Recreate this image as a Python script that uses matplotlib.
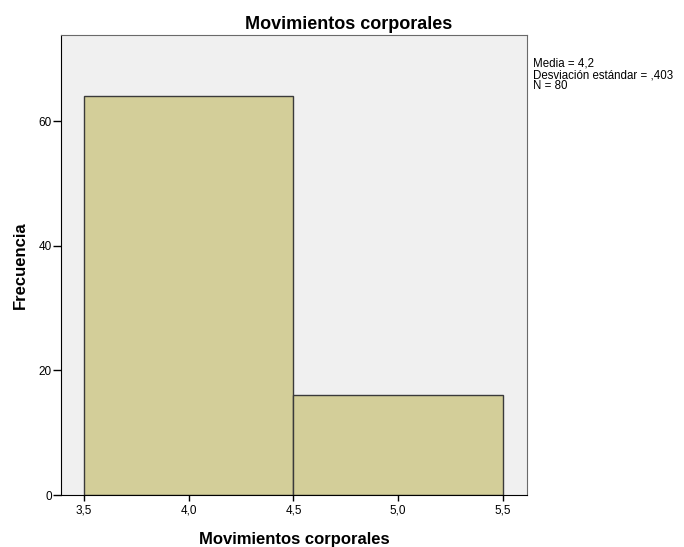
import matplotlib
matplotlib.use("Agg")
import matplotlib.pyplot as plt
import numpy as np

plt.rcParams["font.family"] = ["Liberation Sans", "DejaVu Sans"]

# histogram data (bin edges and counts)
bin_edges = [3.5, 4.5, 5.5]
counts = [64, 16]
x_ticks = [3.5, 4.0, 4.5, 5.0, 5.5]
x_ticklabels = ["3,5", "4,0", "4,5", "5,0", "5,5"]
y_ticks = [0, 20, 40, 60]
stats_lines = ["Media = 4,2", "Desviación estándar = ,403", "N = 80"]

W, H = 684, 547
fig = plt.figure(figsize=(W / 100, H / 100), dpi=100)
ax = fig.add_axes([61 / W, 1 - 495 / H, (527 - 61) / W, (495 - 35) / H])
ax.set_facecolor("#f0f0f0")

widths = np.diff(bin_edges)
ax.bar(bin_edges[:-1], counts, width=widths, align="edge",
       color="#d3ce99", edgecolor="#3a3a3a", linewidth=1.0)

ax.set_xlim(3.39, 5.615)
ax.set_ylim(0, 73.8)
ax.set_xticks(x_ticks)
ax.set_xticklabels(x_ticklabels)
ax.set_yticks(y_ticks)
ax.tick_params(axis="both", labelsize=8.5, width=1, color="black")
ax.tick_params(axis="y", length=5.5, pad=1)
ax.tick_params(axis="x", length=4, pad=2.5)

for side in ["top", "right"]:
    ax.spines[side].set_color("#6a6a6a")
for side in ["left", "bottom"]:
    ax.spines[side].set_color("black")

# title is centred over the whole chart (plot + stats box), as SPSS does
fig.text(349 / W, 1 - 29 / H, "Movimientos corporales", fontsize=13,
         fontweight="bold", ha="center", va="baseline")

ax.set_xlabel("Movimientos corporales", fontsize=12, fontweight="bold")
ax.xaxis.label.set_va("baseline")
ax.xaxis.set_label_coords(0.5, (495 - 544) / (495 - 35))
ax.set_ylabel("Frecuencia", fontsize=12, fontweight="bold")
ax.yaxis.set_label_coords((28 - 61) / (527 - 61), 0.5)

for i, line in enumerate(stats_lines):
    fig.text(533 / W, 1 - (67 + 11 * i) / H, line, fontsize=8.3,
             ha="left", va="baseline")

fig.savefig("out.png", dpi=100)
